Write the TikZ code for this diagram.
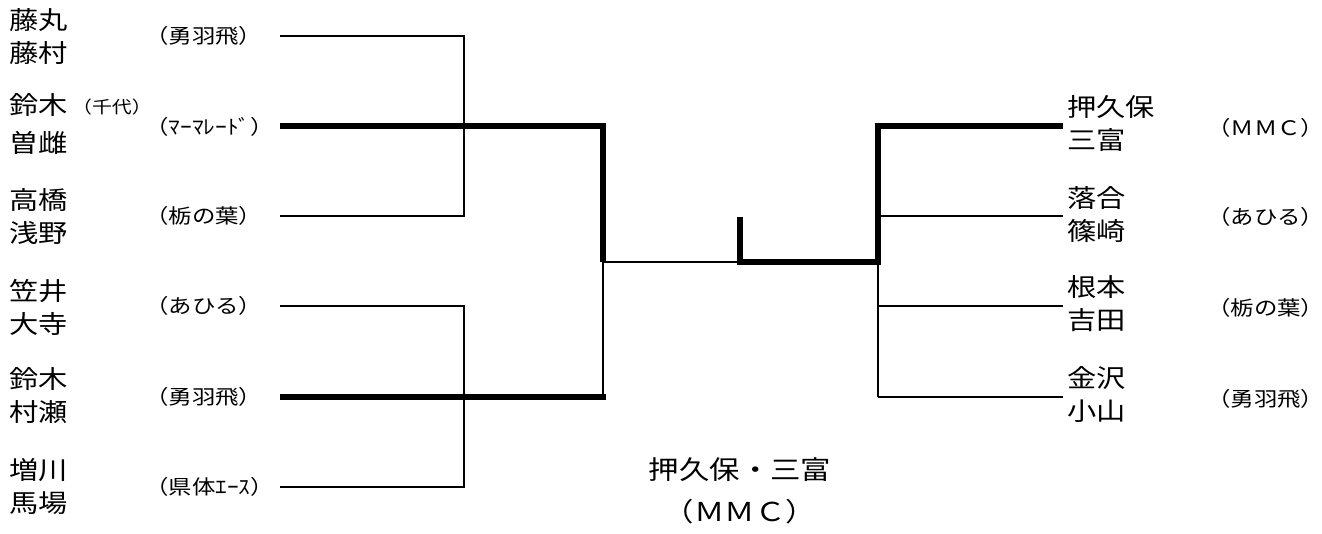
\documentclass[tikz,border=0pt]{standalone}
\usepackage{fontspec}
\setmainfont{Noto Sans CJK JP}[FakeStretch=1.17]
\begin{document}
\begin{tikzpicture}[x=1pt,y=-1pt,
  thinln/.style={line width=2.6pt,line join=miter},
  thickln/.style={line width=5.6pt,line join=miter},
  namebox/.style={inner sep=0pt,align=left,font=\fontsize{25}{33}\selectfont},
  namewide/.style={inner sep=0pt,align=left,font=\fontsize{25}{38}\selectfont},
  teambox/.style={inner sep=0pt,font=\fontsize{20}{22}\selectfont},
  smallbox/.style={inner sep=0pt,font=\fontsize{17}{18}\selectfont},
  champbox/.style={inner sep=0pt,font=\fontsize{26}{30}\selectfont}]
\useasboundingbox (0,0) rectangle (1322,534);
% left names
\node[namebox,anchor=west] (n1) at (9,37) {藤丸\\藤村};
\node[namewide,anchor=west] (n2) at (9,124) {鈴木\\曽雌};
\node[smallbox,anchor=west] (chiyo) at (72,107) {（千代）};
\node[namebox,anchor=west] (n3) at (9,217) {高橋\\浅野};
\node[namebox,anchor=west] (n4) at (9,307) {笠井\\大寺};
\node[namebox,anchor=west] (n5) at (9,396) {鈴木\\村瀬};
\node[namebox,anchor=west] (n6) at (9,487) {増川\\馬場};
% left teams
\node[teambox,anchor=west] (t1) at (145,36) {（勇羽飛）};
\node[teambox,anchor=west] (t2) at (145,127) {（ﾏｰﾏﾚｰﾄﾞ）};
\node[teambox,anchor=west] (t3) at (145,216) {（栃の葉）};
\node[teambox,anchor=west] (t4) at (145,306) {（あひる）};
\node[teambox,anchor=west] (t5) at (145,397) {（勇羽飛）};
\node[teambox,anchor=west] (t6) at (145,487) {（県体ｴｰｽ）};
% right names
\node[namebox,anchor=west] (r1) at (1067,124) {押久保\\三富};
\node[namebox,anchor=west] (r2) at (1067,215) {落合\\篠崎};
\node[namebox,anchor=west] (r3) at (1067,304) {根本\\吉田};
\node[namebox,anchor=west] (r4) at (1067,394) {金沢\\小山};
% right teams
\node[teambox,anchor=west] (u1) at (1207,128) {（ＭＭＣ）};
\node[teambox,anchor=west] (u2) at (1207,217) {（あひる）};
\node[teambox,anchor=west] (u3) at (1207,308) {（栃の葉）};
\node[teambox,anchor=west] (u4) at (1207,399) {（勇羽飛）};
% champion
\node[champbox] (c1) at (740,470) {押久保・三富};
\node[champbox] (c2) at (740,512) {（ＭＭＣ）};
% bracket coordinates
\coordinate (a1) at (280,36);  \coordinate (a1j) at (464,36);
\coordinate (a2) at (280,126); \coordinate (a2j) at (603,126);
\coordinate (a3) at (280,216); \coordinate (a3j) at (464,216);
\coordinate (a4) at (280,306); \coordinate (a4j) at (464,306);
\coordinate (a5) at (280,397); \coordinate (a5j) at (603,397);
\coordinate (a6) at (280,487); \coordinate (a6j) at (464,487);
\coordinate (lm) at (603,262);
\coordinate (ct) at (740,217); \coordinate (cm) at (740,262);
\coordinate (rm) at (878,262);
\coordinate (b1j) at (878,126); \coordinate (b1) at (1063,126);
\coordinate (b2j) at (878,216); \coordinate (b2) at (1063,216);
\coordinate (b3j) at (878,306); \coordinate (b3) at (1063,306);
\coordinate (b4j) at (878,397); \coordinate (b4) at (1063,397);
% left bracket
\draw[thinln] (a1) -- (a1j) -- (a3j) -- (a3);
\draw[thinln] (a4) -- (a4j) -- (a6j) -- (a6);
\draw[thinln] (lm) -- (a5j);
\draw[thinln] (lm) -- (cm);
\draw[thickln] (a2) -- (a2j) -- (lm);
\draw[thickln] (a5) -- ([xshift=2.8pt]a5j);
% right bracket
\draw[thinln] (rm) -- (b4j);
\draw[thinln] (b2j) -- (b2);
\draw[thinln] (b3j) -- (b3);
\draw[thinln] (b4j) -- (b4);
\draw[thickln] (ct) -- (cm) -- (rm) -- (b1j) -- (b1);
\end{tikzpicture}
\end{document}
